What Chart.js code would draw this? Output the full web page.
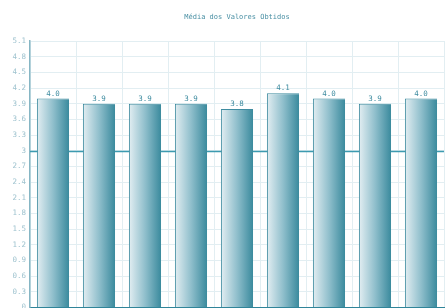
<!DOCTYPE html>
<html>
<head>
<meta charset="utf-8">
<script src="https://cdn.jsdelivr.net/npm/chart.js@4.4.1/dist/chart.umd.min.js"></script>
<style>
    html, body { margin: 0; padding: 0; background: #ffffff; overflow: hidden; }
    #wrap { width: 445px; height: 316px; }
</style>
</head>
<body>
<div id="wrap"><canvas id="chart"></canvas></div>
<script>
const chartTitle = "Média dos Valores Obtidos";
const categories = ["1", "2", "3", "4", "5", "6", "7", "8", "9"];
const mediaValues = [4.0, 3.9, 3.9, 3.9, 3.8, 4.1, 4.0, 3.9, 4.0];
const referenceLine = 3;
const yMin = 0;
const yMax = 5.1;
const yStep = 0.3;

const FONT = "'DejaVu Sans Mono', monospace";

// gradiente horizontal por barra
function barGradient(c) {
    const chart = c.chart;
    const xs = chart.scales.x;
    if (!xs || xs.width === undefined || isNaN(xs.width)) return "#7fb0c0";
    const cx = xs.getPixelForValue(c.dataIndex);
    const half = (xs.width / categories.length) * 0.7 / 2;
    const g = chart.ctx.createLinearGradient(cx - half, 0, cx + half, 0);
    g.addColorStop(0, "#e3eef2");
    g.addColorStop(0.5, "#90bfcc");
    g.addColorStop(1, "#3a8a9d");
    return g;
}

// título centrado na área do gráfico
const titlePlugin = {
    id: "areaTitle",
    afterDraw(chart) {
        const { ctx, chartArea } = chart;
        ctx.save();
        ctx.fillStyle = "#4a90a4";
        ctx.font = "7px " + FONT;
        ctx.textAlign = "center";
        ctx.textBaseline = "middle";
        ctx.fillText(chartTitle, (chartArea.left + chartArea.right) / 2, 17);
        ctx.restore();
    }
};

// linha de referência atrás das barras
const refLinePlugin = {
    id: "refLine",
    beforeDatasetsDraw(chart) {
        const { ctx, chartArea, scales } = chart;
        const y = Math.round(scales.y.getPixelForValue(referenceLine)) + 0.5;
        ctx.save();
        ctx.strokeStyle = "#3c9ab0";
        ctx.lineWidth = 1.3;
        ctx.beginPath();
        ctx.moveTo(chartArea.left, y);
        ctx.lineTo(chartArea.right, y);
        ctx.stroke();
        ctx.restore();
    }
};

// rótulos dos valores
const valueLabels = {
    id: "valueLabels",
    afterDatasetsDraw(chart) {
        const { ctx } = chart;
        const meta = chart.getDatasetMeta(0);
        ctx.save();
        ctx.fillStyle = "#3f8ca0";
        ctx.font = "7.5px " + FONT;
        ctx.textAlign = "center";
        ctx.textBaseline = "bottom";
        meta.data.forEach((bar, i) => {
            ctx.fillText(mediaValues[i].toFixed(1), bar.x, bar.y - 1);
        });
        ctx.restore();
    }
};

const config = {
    type: "bar",
    data: {
        labels: categories,
        datasets: [
            {
                label: chartTitle,
                data: mediaValues,
                backgroundColor: barGradient,
                borderColor: "#3f8ca0",
                borderWidth: { top: 1, left: 1, right: 0, bottom: 0 },
                borderSkipped: false,
                barPercentage: 0.7,
                categoryPercentage: 1,
            },
        ],
    },
    options: {
        responsive: true,
        maintainAspectRatio: false,
        animation: false,
        layout: { padding: { top: 41, right: 1, bottom: 0, left: 0 } },
        plugins: {
            legend: { display: false },
            tooltip: { enabled: false },
            title: { display: false },
        },
        scales: {
            x: {
                ticks: { display: false },
                grid: { color: "#e2eef2", drawTicks: false, offset: true },
                border: { color: "#2f8499", width: 1.5 },
                afterFit(scale) { scale.height = 0; },
            },
            y: {
                min: yMin,
                max: yMax,
                ticks: {
                    stepSize: yStep,
                    color: "#9fc3cf",
                    font: { family: FONT, size: 7.5 },
                    padding: 4,
                    callback: (v) => String(Number(v.toFixed(1))),
                },
                grid: { color: "#e2eef2", drawTicks: false },
                border: { color: "#86b6c4", width: 1.5 },
                afterFit(scale) { scale.width = 30; },
            },
        },
    },
    plugins: [refLinePlugin, valueLabels, titlePlugin],
};

const myChart = new Chart(document.getElementById("chart"), config);
</script>
</body>
</html>
